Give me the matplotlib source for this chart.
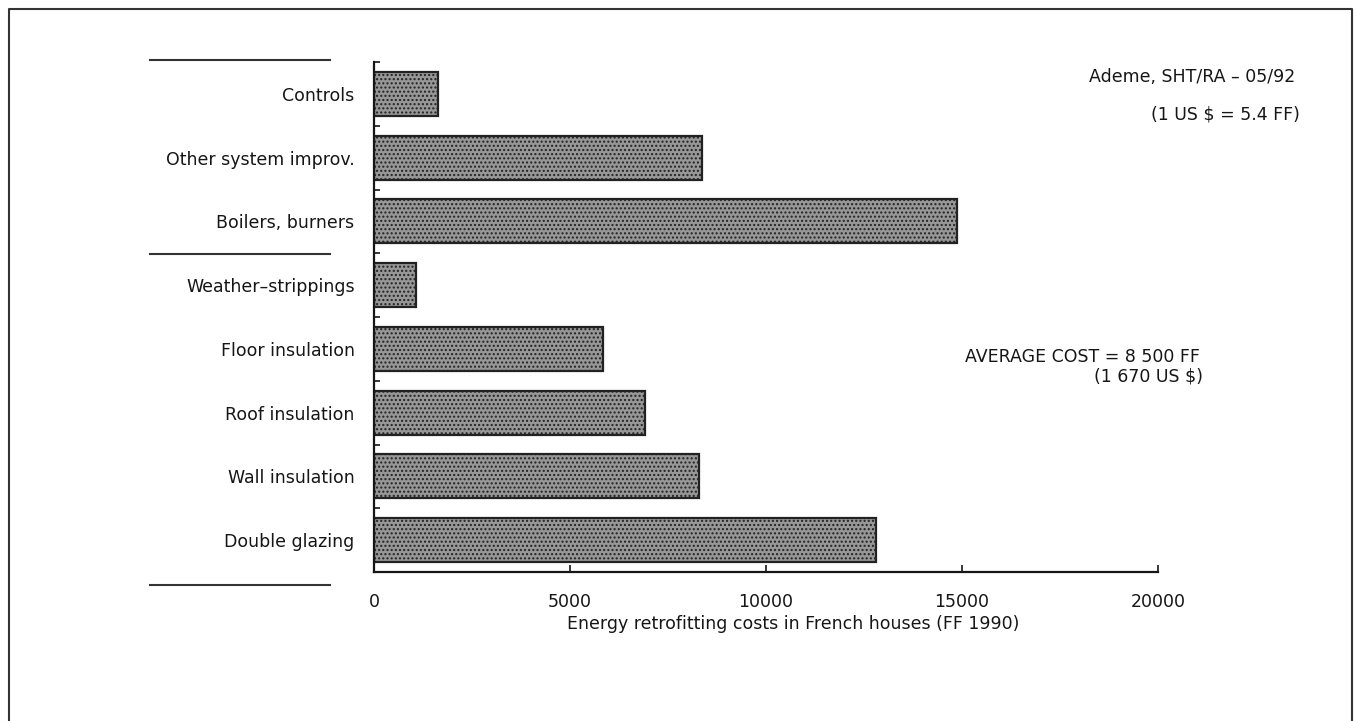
import matplotlib.pyplot as plt
from matplotlib.lines import Line2D

# data (FF 1990)
categories = ['Controls', 'Other system improv.', 'Boilers, burners',
              'Weather\u2013strippings', 'Floor insulation', 'Roof insulation',
              'Wall insulation', 'Double glazing']
costs = [1630, 8370, 14870, 1070, 5840, 6910, 8290, 12800]
xticks = [0, 5000, 10000, 15000, 20000]

plt.rcParams['font.family'] = ['DejaVu Sans']
ink = '#161616'
fs = 12.5

fig = plt.figure(figsize=(13.56, 7.21), dpi=100)
ax = fig.add_axes([374 / 1356, 1 - 572 / 721, (1158 - 374) / 1356, (572 - 62) / 721])

ypos = list(range(len(categories)))
ax.barh(ypos, costs, height=0.69, color='#979797', edgecolor='#222222',
        linewidth=1.6, hatch='....', align='center')

ax.set_xlim(0, 20000)
ax.set_ylim(len(categories) - 0.5, -0.5)

# category labels on major ticks (hidden), small ticks at the boundaries
ax.set_yticks(ypos)
ax.set_yticklabels(categories, fontsize=fs, color=ink)
ax.tick_params(axis='y', which='major', length=0, pad=14)
ax.set_yticks([i - 0.5 for i in range(len(categories) + 1)], minor=True)
ax.tick_params(axis='y', which='minor', direction='in', length=4, width=1.2, color=ink)

ax.set_xticks(xticks)
ax.set_xticklabels([str(v) for v in xticks], fontsize=fs, color=ink)
ax.tick_params(axis='x', direction='in', length=5, width=1.2, color=ink, pad=15)
ax.set_xlabel('Energy retrofitting costs in French houses (FF 1990)',
              fontsize=fs, color=ink, labelpad=0)
ax.xaxis.set_label_coords(0.535, -0.085)

for s in ['top', 'right']:
    ax.spines[s].set_visible(False)
for s in ['left', 'bottom']:
    ax.spines[s].set_linewidth(1.6)
    ax.spines[s].set_color(ink)

# separator lines left of the labels
for yy in [60, 254, 585]:
    fig.add_artist(Line2D([150 / 1356, 330 / 1356], [1 - yy / 721] * 2,
                          color='#333333', linewidth=1.5))

# notes
fig.text(1295 / 1356, 1 - 77 / 721, 'Ademe, SHT/RA \u2013 05/92', ha='right', va='center',
         fontsize=fs, color=ink)
fig.text(1300 / 1356, 1 - 115 / 721, '(1 US $ = 5.4 FF)', ha='right', va='center',
         fontsize=fs, color=ink)
fig.text(1200 / 1356, 1 - 357 / 721, 'AVERAGE COST = 8 500 FF', ha='right', va='center',
         fontsize=fs, color=ink)
fig.text(1203 / 1356, 1 - 376 / 721, '(1 670 US $)', ha='right', va='center',
         fontsize=fs, color=ink)

# page frame (no bottom edge)
fig.add_artist(Line2D([9 / 1356, 9 / 1356, 1352 / 1356, 1352 / 1356],
                      [0, 1 - 9 / 721, 1 - 9 / 721, 0], color='#333333', linewidth=1.5))

fig.savefig('out.png', dpi=100)
